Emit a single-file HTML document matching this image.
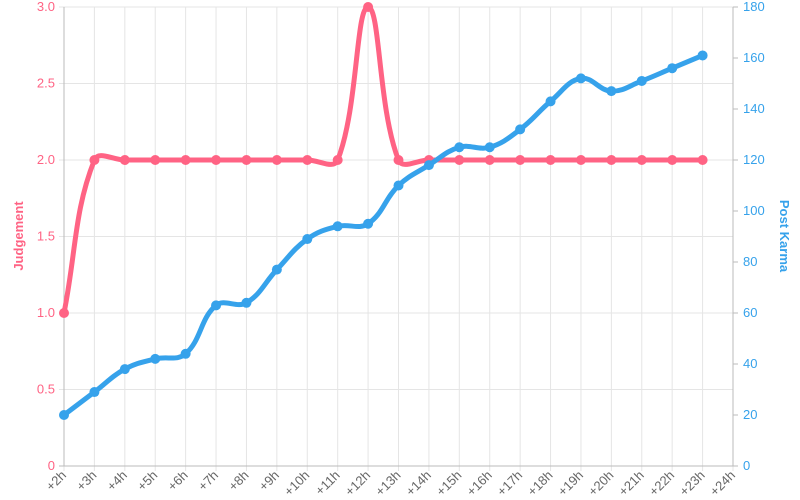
<!DOCTYPE html>
<html><head><meta charset="utf-8"><style>
html,body{margin:0;padding:0;background:#fff;width:800px;height:500px;overflow:hidden}
text{font-family:"Liberation Sans",sans-serif;font-size:13px}
</style></head><body>
<svg id="s" width="800" height="500" xmlns="http://www.w3.org/2000/svg"></svg>
<script>
const s=document.getElementById('s');
const L=64,R=733,T=7,B=466;
const dx=(R-L)/22;
let h='';
for(let i=0;i<=22;i++){const x=L+i*dx;h+=`<line x1="${x}" y1="${T}" x2="${x}" y2="${B+5}" stroke="#e5e5e5"/>`;}
for(let k=0;k<=6;k++){const y=B-(B-T)*k/6;h+=`<line x1="${L-5}" y1="${y}" x2="${R}" y2="${y}" stroke="${k==0?'#bbb':'#e5e5e5'}"/>`;
h+=`<text x="${L-9}" y="${y+4}" text-anchor="end" fill="#ff6384">${k==0?'0':(k*0.5).toFixed(1)}</text>`;}
for(let k=0;k<=9;k++){const y=B-(B-T)*k/9;h+=`<line x1="${R}" y1="${y}" x2="${R+5}" y2="${y}" stroke="#bbb"/>`;
h+=`<text x="${R+10}" y="${y+4}" fill="#36a2eb">${k*20}</text>`;}
h+=`<line x1="${R}" y1="${B}" x2="${R+5}" y2="${B}" stroke="#bbb"/>`;
h+=`<line x1="${L}" y1="${T}" x2="${L}" y2="${B}" stroke="#bbb"/><line x1="${R}" y1="${T}" x2="${R}" y2="${B}" stroke="#bbb"/>`;
for(let i=0;i<=22;i++){const x=L+i*dx;h+=`<text transform="translate(${x+3},${B+10}) rotate(-45)" text-anchor="end" fill="#666" font-size="11">+${i+2}h</text>`;}
h+=`<text transform="translate(23,236) rotate(-90)" text-anchor="middle" fill="#ff6384" font-size="16" font-weight="bold">Judgement</text>`;
h+=`<text transform="translate(780,236) rotate(90)" text-anchor="middle" fill="#36a2eb" font-size="16" font-weight="bold">Post Karma</text>`;
function path(pts){let d=`M${pts[0][0]},${pts[0][1]}`;const cp=[];
for(let i=0;i<pts.length;i++){const p=pts[i-1]||pts[i],c=pts[i],q=pts[i+1]||pts[i];
const d01=Math.hypot(c[0]-p[0],c[1]-p[1]),d12=Math.hypot(q[0]-c[0],q[1]-c[1]);
let s01=d01/(d01+d12)||0,s12=d12/(d01+d12)||0;const fa=0.4*s01,fb=0.4*s12;
cp.push([[c[0]-fa*(q[0]-p[0]),c[1]-fa*(q[1]-p[1])],[c[0]+fb*(q[0]-p[0]),c[1]+fb*(q[1]-p[1])]]);}
for(let i=1;i<pts.length;i++){d+=` C${cp[i-1][1][0]},${cp[i-1][1][1]} ${cp[i][0][0]},${cp[i][0][1]} ${pts[i][0]},${pts[i][1]}`;}return d;}
const red=[1,2,2,2,2,2,2,2,2,2,3,2,2,2,2,2,2,2,2,2,2,2];
const blue=[20,29,38,42,44,63,64,77,89,94,95,110,118,125,125,132,143,152,147,151,156,161];
const rp=red.map((v,i)=>[L+i*dx,B-(B-T)*v/3]);
const bp=blue.map((v,i)=>[L+i*dx,B-(B-T)*v/180]);
function series(pts,c){let o=`<path d="${path(pts)}" fill="none" stroke="${c}" stroke-width="5"/>`;
pts.forEach(p=>o+=`<circle cx="${p[0]}" cy="${p[1]}" r="5" fill="${c}"/>`);return o;}
h+=series(rp,'#ff6384')+series(bp,'#36a2eb');
s.innerHTML=h;
</script>
</body></html>
